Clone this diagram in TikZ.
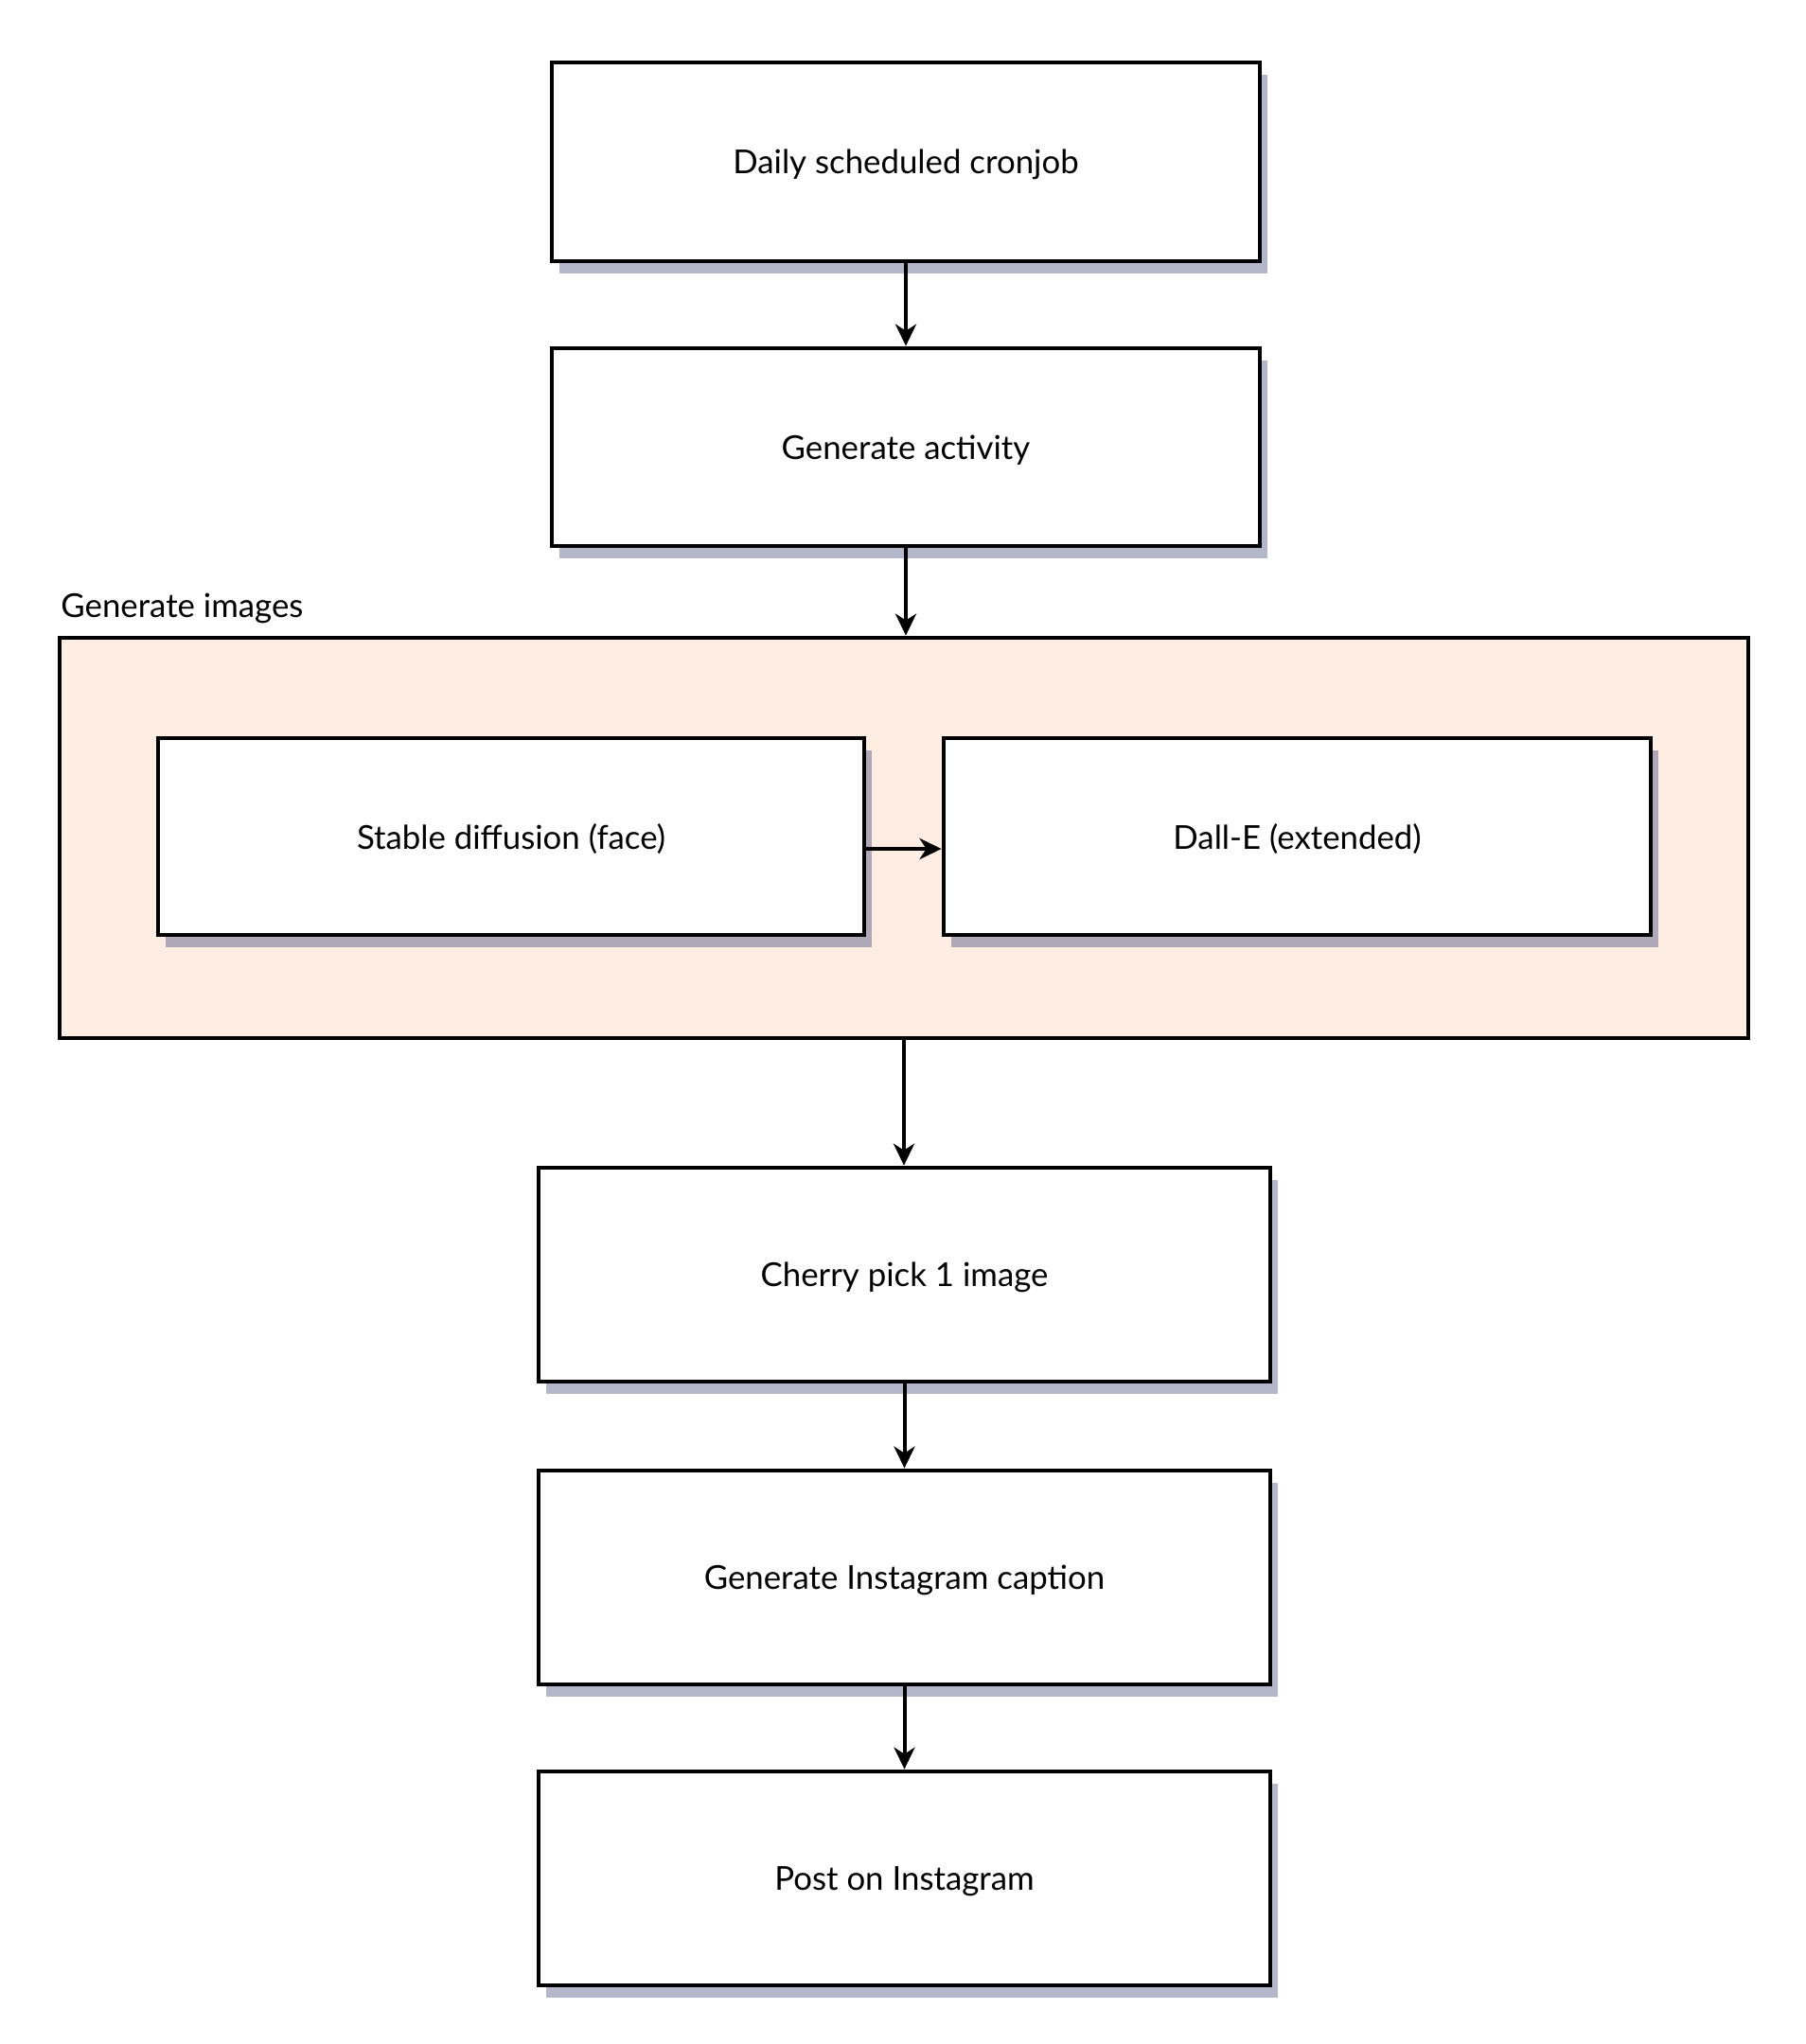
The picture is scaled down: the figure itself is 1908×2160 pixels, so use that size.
\documentclass[tikz,border=0pt]{standalone}
\usepackage{fontspec}
\setmainfont{Lato}
\usetikzlibrary{arrows.meta,shadows}
\definecolor{shadowc}{HTML}{B4B6C9}
\definecolor{shadowin}{HTML}{AFA8B8}
\definecolor{peach}{HTML}{FDEDE3}
\tikzset{
  stepbox/.style={draw=black, line width=2.4pt, fill=white, rectangle, inner sep=0pt,
    text depth=0pt,
    font=\fontsize{17.4pt}{20pt}\selectfont,
    drop shadow={fill=shadowc, opacity=1, shadow xshift=4pt, shadow yshift=-6.5pt}},
  innerbox/.style={stepbox, drop shadow={fill=shadowin, opacity=1, shadow xshift=4pt, shadow yshift=-6.5pt}},
  groupbox/.style={draw=black, line width=2.4pt, fill=peach, rectangle, inner sep=0pt},
  arr/.style={-{Stealth[length=11.5pt,width=11pt,inset=3.5pt]}, line width=2pt, black},
  grouplabel/.style={anchor=base west, inner sep=0pt, font=\fontsize{17.4pt}{20pt}\selectfont}
}
\begin{document}
\begin{tikzpicture}[x=0.5pt,y=-0.5pt]
\useasboundingbox (0,0) rectangle (1908,2160);
\node[stepbox, minimum width=374pt, minimum height=105pt] (b1) at (957,171) {Daily scheduled cronjob};
\node[stepbox, minimum width=374pt, minimum height=104.5pt] (b2) at (957,472.5) {Generate activity};
\node[groupbox, minimum width=892pt, minimum height=211.5pt] (grp) at (955,885.5) {};
\node[grouplabel] (glabel) at (64,652) {Generate images};
\node[innerbox, minimum width=373pt, minimum height=104pt] (i1) at (540,884) {Stable diffusion (face)};
\node[innerbox, minimum width=373.5pt, minimum height=104pt] (i2) at (1370.5,884) {Dall-E (extended)};
\node[stepbox, minimum width=386.5pt, minimum height=113pt] (b3) at (955.5,1347) {Cherry pick 1 image};
\node[stepbox, minimum width=386.5pt, minimum height=113pt] (b4) at (955.5,1667) {Generate Instagram caption};
\node[stepbox, minimum width=386.5pt, minimum height=113pt] (b5) at (955.5,1985) {Post on Instagram};
\draw[arr] (b1.south) -- (b2.north);
\draw[arr] (b2.south) -- (grp.north -| b2.south);
\draw[arr] ([yshift=-6.5pt]i1.east) -- ([yshift=-6.5pt]i2.west);
\draw[arr] (grp.south) -- (b3.north -| grp.south);
\draw[arr] (b3.south) -- (b4.north);
\draw[arr] (b4.south) -- (b5.north);
\end{tikzpicture}
\end{document}
